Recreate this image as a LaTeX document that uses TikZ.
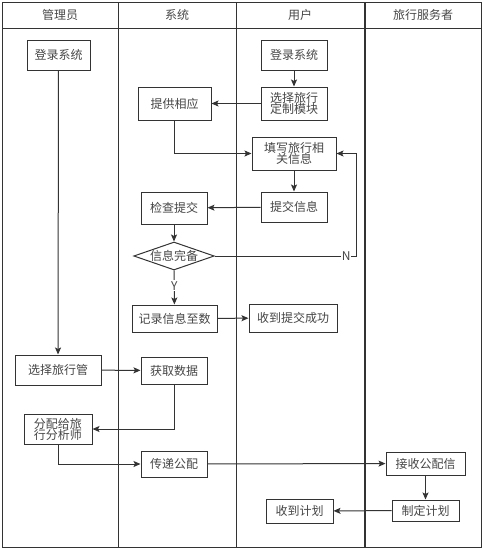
\documentclass[tikz,border=0pt]{standalone}
\usepackage{fontspec}
\usetikzlibrary{arrows.meta, shapes.geometric}
\newfontfamily\cjk{Noto Sans CJK SC}
\definecolor{lnclr}{RGB}{51, 51, 51}
\definecolor{txtclr}{RGB}{70, 70, 70}

\begin{document}
\begin{tikzpicture}[
    x=1pt, y=-1pt,
    every node/.style={font=\cjk\fontsize{12}{12}\selectfont, text=txtclr},
    lane/.style={draw=lnclr, line width=1pt},
    proc/.style={draw=lnclr, line width=1pt, fill=white, minimum width=66, minimum height=30, inner sep=1pt, align=center},
    judge/.style={diamond, aspect=2.9, draw=lnclr, line width=1pt, fill=white, minimum width=80, minimum height=28, inner sep=0pt},
    arrow/.style={-{Stealth[length=7pt, width=6pt, inset=1.5pt]}, line width=1pt, draw=lnclr},
    yn/.style={fill=white, inner sep=1pt}
]
\useasboundingbox (0,0) rectangle (483,549);

% ===泳道 ===
\draw[lane] (2,2) rectangle (481,547);
\draw[lane] (2,28) -- (481,28);
\draw[lane] (118,2) -- (118,547);
\draw[lane] (236,2) -- (236,547);
\draw[lane, line width=2pt] (365,2) -- (365,547);
\node (hAdmin) at (60,15) {管理员};
\node (hSys) at (177,15) {系统};
\node (hUser) at (300,15) {用户};
\node (hAgent) at (423,15) {旅行服务者};

% === 管理员 ===
\node[proc, minimum width=63] (adminLogin) at (58.5,55) {登录系统};
\node[proc, minimum width=86] (adminSel) at (58,370) {选择旅行管};
\node[proc, minimum width=68] (assign) at (58,429) {分配给旅\\[-1pt]行分析师};

% === 系统 ===
\node[proc, minimum width=73, minimum height=33] (provide) at (174.5,103.5) {提供相应};
\node[proc, minimum height=32] (check) at (174,208) {检查提交};
\node[judge] (judgeNode) at (174,256) {信息完备};
\node[proc, minimum width=85, minimum height=27] (record) at (174.5,318.5) {记录信息至数};
\node[proc, minimum height=27] (fetch) at (174,370.5) {获取数据};
\node[proc, minimum height=26] (pass) at (174,464) {传递公配};

% === 用户 ===
\node[proc, minimum height=30] (userLogin) at (294,55) {登录系统};
\node[proc, minimum height=33] (userSel) at (294,103.5) {选择旅行\\[-1pt]定制模块};
\node[proc, minimum width=84, minimum height=33] (fill) at (294,153.5) {填写旅行相\\[-1pt]关信息};
\node[proc, minimum height=30] (submit) at (294,207) {提交信息};
\node[proc, minimum width=88, minimum height=28] (success) at (293,318) {收到提交成功};
\node[proc, minimum width=67, minimum height=24] (got) at (299.5,511) {收到计划};

% === 旅行服务者 ===
\node[proc, minimum width=79, minimum height=23] (receive) at (425.5,463.5) {接收公配信};
\node[proc, minimum width=67, minimum height=21] (plan) at (425.5,510.5) {制定计划};

% === 连线 ===
\coordinate (nTurn) at (356,256);
\draw[arrow] (adminLogin) -- (adminSel);
\draw[arrow] (userLogin) -- (userSel);
\draw[arrow] (userSel) -- (provide);
\draw[arrow] (provide.south) |- (fill.west);
\draw[arrow] (fill) -- (submit);
\draw[arrow] (submit) -- (check);
\draw[arrow] (check) -- (judgeNode);
\draw[arrow] (judgeNode.east) -- (nTurn) node[yn, pos=0.93] {N} |- (fill.east);
\draw[arrow] (judgeNode) -- node[yn, pos=0.45] {Y} (record);
\draw[arrow] (record) -- (success);
\draw[arrow] (adminSel) -- (fetch);
\draw[arrow] (fetch.south) |- (assign.east);
\draw[arrow] (assign.south) |- (pass.west);
\draw[arrow] (pass) -- (receive);
\draw[arrow] (receive) -- (plan);
\draw[arrow] (plan) -- (got);

\end{tikzpicture}
\end{document}
